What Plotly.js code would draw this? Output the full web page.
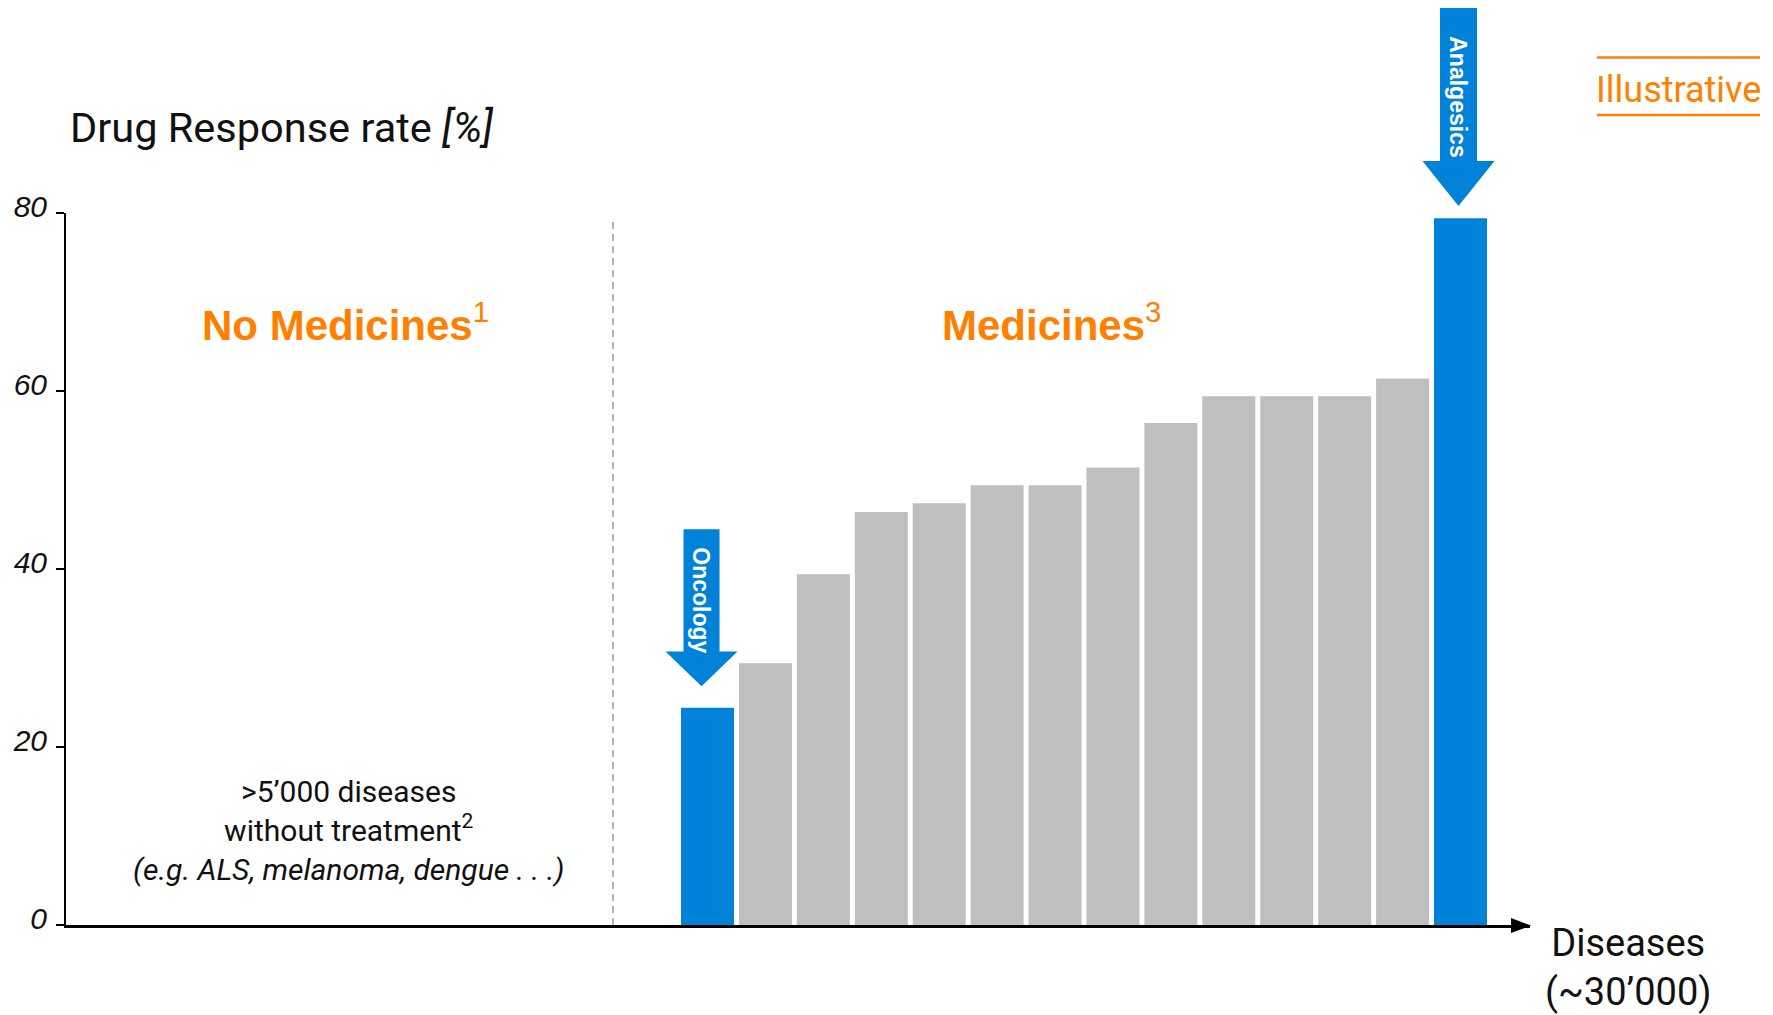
<!DOCTYPE html>
<html>
<head>
<meta charset="utf-8">
<script src="https://cdn.plot.ly/plotly-3.0.1.min.js"></script>
<style>
  html, body { margin: 0; padding: 0; background: #ffffff; }
  #chart { width: 1773px; height: 1015px; }
</style>
</head>
<body>
<div id="chart"></div>
<script>
// Therapeutic areas, sorted by drug response rate
const categories = [
  'Oncology', "Alzheimer's", 'Incontinence', 'HCV', 'Osteoporosis',
  'Migraine (prophylaxis)', 'Rheumatoid arthritis', 'Migraine (acute)',
  'Diabetes', 'Asthma', 'Cardiac arrhythmias', 'Schizophrenia',
  'Depression (SSRI)', 'Analgesics'
];
// Response rate per area, in percent
const responseRate = [24.4, 29.4, 39.4, 46.4, 47.4, 49.4, 49.4, 51.4, 56.4, 59.4, 59.4, 59.4, 61.4, 79.4];
// Areas called out with an arrow
const highlighted = ['Oncology', 'Analgesics'];
// Y axis ticks
const yTicks = [0, 20, 40, 60, 80];
const yMax = 80;

const BLUE = '#0082d8';
const GREY = '#bfbfbf';
const ORANGE = '#ff7f00';

const W = 1773, H = 1015;
const M = { l: 66, r: 243, t: 213, b: 90 };
const PW = W - M.l - M.r, PH = H - M.t - M.b;
// pixel position on the page -> paper fraction
const px = p => (p - M.l) / PW;
const py = p => (H - M.b - p) / PH;

const xIdx = categories.map((_, i) => i);
const barColors = categories.map(c => highlighted.includes(c) ? BLUE : GREY);

const trace = {
  type: 'bar',
  x: xIdx,
  y: responseRate,
  text: categories,
  hoverinfo: 'text+y',
  textposition: 'none',
  marker: { color: barColors, line: { width: 0 } },
  width: 0.915
};

// Downward arrow drawn above a bar, in pixel offsets from the bar top
function arrowPath(cx, tip, base, half, shaftHalf, top) {
  return 'M' + (cx - shaftHalf) + ',' + top +
    ' L' + (cx + shaftHalf) + ',' + top +
    ' L' + (cx + shaftHalf) + ',' + base +
    ' L' + (cx + half) + ',' + base +
    ' L' + cx + ',' + tip +
    ' L' + (cx - half) + ',' + base +
    ' L' + (cx - shaftHalf) + ',' + base + ' Z';
}
const iOnc = categories.indexOf('Oncology');
const iAna = categories.indexOf('Analgesics');

const shapes = [
  // divider between the two regions
  { type: 'line', xref: 'paper', yref: 'paper', x0: px(613), x1: px(613), y0: 0, y1: py(218),
    line: { color: '#9a9a9a', width: 1.5, dash: '7px,5px' } },
  // arrow head on the x axis
  { type: 'path', xref: 'paper', yref: 'paper',
    path: 'M' + px(1531) + ',' + py(925.5) + ' L' + px(1511) + ',' + py(918) + ' L' + px(1511) + ',' + py(933) + ' Z',
    fillcolor: '#000000', line: { width: 0 } },
  // callout arrows
  { type: 'path', xref: 'x', yref: 'paper', xsizemode: 'pixel', ysizemode: 'pixel',
    xanchor: iOnc, yanchor: responseRate[iOnc] / yMax,
    path: arrowPath(-6, 21.6, 56.3, 36, 18, 178.6), fillcolor: BLUE, line: { width: 0 } },
  { type: 'path', xref: 'x', yref: 'paper', xsizemode: 'pixel', ysizemode: 'pixel',
    xanchor: iAna, yanchor: responseRate[iAna] / yMax,
    path: arrowPath(-2, 12.3, 57.3, 36, 18.5, 210.3), fillcolor: BLUE, line: { width: 0 } },
  // rules around the "Illustrative" tag
  { type: 'line', xref: 'paper', yref: 'paper', x0: px(1597), x1: px(1760), y0: py(57.5), y1: py(57.5),
    line: { color: ORANGE, width: 2.5 } },
  { type: 'line', xref: 'paper', yref: 'paper', x0: px(1597), x1: px(1760), y0: py(115), y1: py(115),
    line: { color: ORANGE, width: 2.5 } }
];

const SANS = 'Roboto, "Liberation Sans", Arial, sans-serif';
const BOLD = '"Liberation Sans", Arial, sans-serif';

const annotations = [
  { text: 'Drug Response rate <i>[%]</i>', xref: 'paper', yref: 'paper',
    x: px(68), y: py(128), xanchor: 'left', yanchor: 'middle', showarrow: false,
    font: { family: SANS, size: 41.5, color: '#111111' } },
  { text: 'No Medicines<sup><span style="font-weight:normal">1</span></sup>', xref: 'paper', yref: 'paper',
    x: px(345), y: py(322), xanchor: 'center', yanchor: 'middle', showarrow: false,
    font: { family: BOLD, size: 42, color: ORANGE, weight: 'bold' } },
  { text: 'Medicines<sup><span style="font-weight:normal">3</span></sup>', xref: 'paper', yref: 'paper',
    x: px(1051), y: py(322), xanchor: 'center', yanchor: 'middle', showarrow: false,
    font: { family: BOLD, size: 42, color: ORANGE, weight: 'bold' } },
  { text: '&gt;5’000 diseases<br>without treatment<sup>2</sup><br><i>(e.g. ALS, melanoma, dengue . . .)</i>',
    xref: 'paper', yref: 'paper', x: px(348), y: py(830), xanchor: 'center', yanchor: 'middle',
    showarrow: false, align: 'center',
    font: { family: SANS, size: 30, color: '#111111' } },
  { text: 'Diseases<br>(~30’000)', xref: 'paper', yref: 'paper',
    x: px(1628), y: py(968), xanchor: 'center', yanchor: 'middle', showarrow: false, align: 'center',
    font: { family: SANS, size: 38, color: '#111111' } },
  { text: 'Illustrative', xref: 'paper', yref: 'paper',
    x: px(1679), y: py(89.5), xanchor: 'center', yanchor: 'middle', showarrow: false,
    font: { family: SANS, size: 36, color: ORANGE } },
  { text: 'Oncology', xref: 'x', yref: 'y', x: iOnc, y: responseRate[iOnc],
    xshift: -6, yshift: 108, textangle: 90, xanchor: 'center', yanchor: 'middle', showarrow: false,
    font: { family: BOLD, size: 23, color: '#ffffff', weight: 'bold' } },
  { text: 'Analgesics', xref: 'x', yref: 'paper', x: iAna, y: responseRate[iAna] / yMax,
    xshift: -2, yshift: 121.6, textangle: 90, xanchor: 'center', yanchor: 'middle', showarrow: false,
    font: { family: BOLD, size: 23, color: '#ffffff', weight: 'bold' } }
];

const layout = {
  width: W, height: H,
  margin: M,
  paper_bgcolor: '#ffffff', plot_bgcolor: '#ffffff',
  showlegend: false,
  bargap: 0.085,
  xaxis: {
    type: 'linear',
    range: [-11.076, 14.2],
    showgrid: false, zeroline: false, showticklabels: false, ticks: '',
    showline: true, linecolor: '#000000', linewidth: 2.5,
    fixedrange: true
  },
  yaxis: {
    range: [0, yMax],
    tickvals: yTicks,
    ticktext: yTicks.map(String),
    ticks: 'outside', ticklen: 8, tickwidth: 1.5, tickcolor: '#000000',
    tickfont: { family: '"Liberation Sans", Arial, sans-serif', size: 30, color: '#111111', style: 'italic' },
    ticklabelstandoff: 3,
    ticklabelshift: -7,
    showgrid: false, zeroline: false,
    showline: true, linecolor: '#000000', linewidth: 2,
    fixedrange: true
  },
  shapes: shapes,
  annotations: annotations
};

Plotly.newPlot('chart', [trace], layout, { staticPlot: true, displayModeBar: false });
</script>
</body>
</html>
